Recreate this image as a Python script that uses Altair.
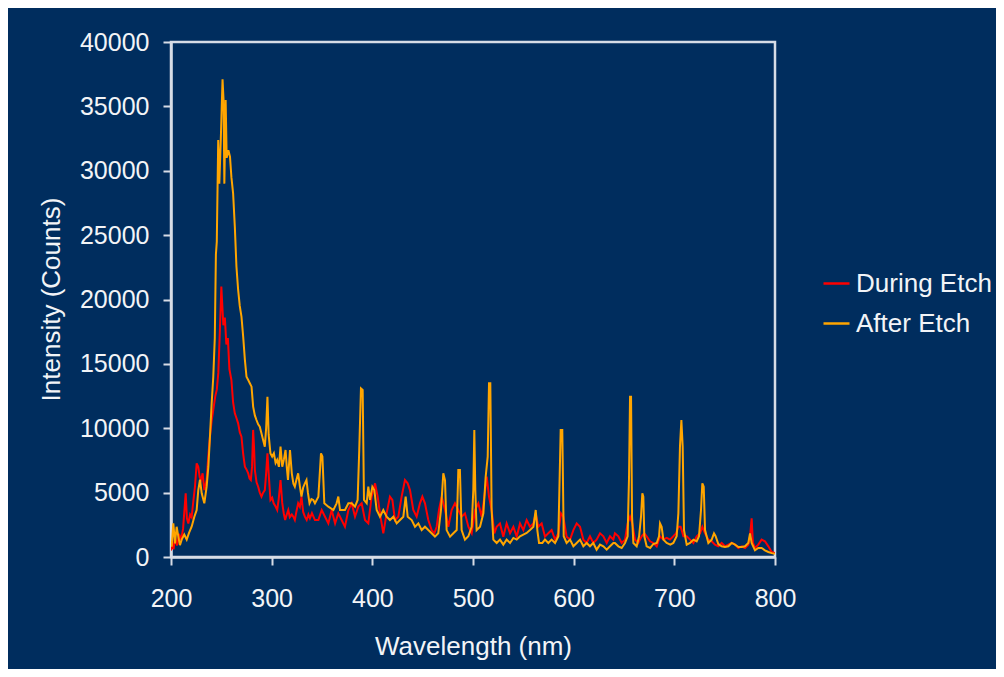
import altair as alt
import pandas as pd

# ---- data ----
series_names = ["During Etch", "After Etch"]
series_colors = ["#FF0000", "#FFA500"]

wl_during = [200, 201, 202.5, 204, 206, 208, 210, 212, 213.5, 214.6, 215.8, 217.2, 219, 220.5, 222, 223.8,
             225.5, 227.1, 228.5, 229.8, 231.4, 233.1, 235.4, 237, 238.7, 240.4, 242, 244, 245.5, 247, 248.5,
             250, 251, 252, 253.5, 255, 256.5, 258, 260, 261.7, 263.4, 265, 266.7, 268.3, 270, 271.7, 273.4,
             275, 276.7, 278, 279.3, 280.5, 281.6, 282.5, 283.3, 285, 286.6, 288.2, 289.9, 291.5, 293.2, 294.5,
             295.8, 297, 298.8, 300.5, 302, 304, 305.5, 307, 308.8, 310.5, 312, 313.4, 315, 316.5, 318, 320,
             321.5, 323, 324.5, 326.3, 328, 329.6, 331.3, 333, 334.8, 336.5, 338, 340, 341.5, 343, 346.4,
             349.7, 353, 356.3, 359.6, 363, 366.2, 369.5, 372.8, 376.2, 379.5, 382.8, 386.1, 389.4, 392.7,
             396, 399.3, 402.7, 405.3, 407.6, 410.9, 414.2, 417.5, 419.9, 422.5, 425.8, 429.1, 432.4, 435.1,
             437.4, 440.7, 444, 447.3, 449.7, 452.3, 455.6, 458.9, 461.6, 463.9, 466.2, 468.9, 472.2, 475.5,
             478.8, 482.1, 485.4, 488.7, 492, 495.4, 498.7, 502, 505.3, 508.6, 511.3, 513.6, 515.9, 518.5,
             521.2, 523.5, 526.8, 530.1, 533.4, 536.8, 540.1, 543.4, 546.7, 550, 553.3, 556.6, 560, 562.3,
             564.9, 568.2, 571.5, 574.8, 578.1, 581.5, 584.8, 587.4, 589.7, 593, 596.4, 599.7, 603, 606.3,
             609.6, 612.9, 616.2, 619.5, 622.8, 626.2, 629.5, 632.8, 636.1, 639.4, 641, 644.4, 647.7, 651,
             653.6, 656, 658.3, 660.9, 664.2, 667.5, 670.2, 672.5, 675.8, 679.1, 682.5, 685.8, 689.1, 692.4,
             695.7, 699, 701.7, 704, 706.3, 709, 712.3, 715.6, 718.9, 722.2, 725.5, 727.8, 730.5, 733.8,
             737.1, 740.4, 743.7, 747, 750.3, 753.7, 757, 760.3, 763.6, 766.9, 770.2, 773.5, 775.2, 776.8,
             778.1, 780.1, 783.4, 786.7, 790, 793.4, 796.7, 800]
int_during = [500, 1200, 600, 1500, 900, 1800, 1300, 2200, 3800, 4950, 3000, 2600, 3300, 3100, 4200, 5460,
              7275, 7000, 6200, 5980, 6500, 5200, 5980, 7800, 9350, 10600, 11420, 12500, 13000, 14300, 17500,
              21000, 19500, 18000, 18600, 16500, 17000, 14600, 13750, 12000, 11160, 10800, 10380, 9700, 9350,
              8000, 7015, 6800, 6500, 6100, 5980, 7000, 9870, 8500, 6756, 5800, 5460, 5000, 4690, 5000, 5200,
              6500, 8050, 6500, 4430, 4600, 4170, 3900, 3650, 4500, 5980, 4200, 3400, 2870, 3300, 3650, 3100,
              3300, 3130, 2870, 3500, 4170, 3900, 4690, 3500, 3130, 2870, 3300, 3000, 3400, 3130, 2870, 2870,
              3650, 3130, 2610, 3650, 2610, 3390, 2870, 2350, 3650, 4170, 3130, 3910, 4170, 2870, 2610, 4690,
              5720, 4690, 3390, 1840, 3390, 4690, 4430, 2870, 3130, 4690, 5980, 5720, 5200, 3650, 3130, 4170,
              4690, 4170, 2870, 2090, 1840, 2350, 3650, 4690, 3650, 2350, 3650, 4170, 3650, 3130, 3390, 2350,
              1840, 3650, 4170, 3130, 4690, 6240, 4690, 3650, 1840, 2350, 2610, 1580, 2610, 1840, 2350, 1580,
              2610, 2090, 2870, 2350, 2610, 3390, 2350, 2610, 1580, 1840, 2090, 1350, 1840, 3390, 3130, 1580,
              1350, 2090, 2610, 2350, 1350, 1090, 1610, 1090, 1350, 1840, 1610, 1090, 1610, 1350, 1840, 1610,
              1090, 1350, 2610, 3130, 2610, 1350, 1090, 1610, 1840, 1610, 1220, 1090, 830, 1610, 1350, 1480,
              1350, 1610, 1840, 2350, 2350, 1610, 1610, 1350, 1090, 1610, 1840, 2350, 1840, 1350, 1220, 960,
              830, 1090, 830, 960, 1090, 960, 700, 830, 700, 960, 1610, 3000, 1090, 700, 960, 1350, 1220, 830,
              390, 300]

wl_after = [200.7, 202.3, 204, 205.6, 207.3, 208.9, 210.6, 213.2, 215.6, 217.9, 220.5, 223.2, 225.5, 227.1,
            228.8, 230.5, 233.1, 235.4, 237.1, 238.7, 240.4, 242, 243.5, 244.6, 245.5, 246.9, 248, 249.5,
            251.2, 252.2, 253, 254.3, 255.3, 257, 258.6, 260, 261.7, 263.4, 265, 266.7, 268.3, 270, 271.7,
            273.4, 275, 276.7, 278.3, 280, 281.6, 283.3, 284.9, 286.6, 288.2, 289.9, 291.5, 293.2, 294.5,
            295.8, 297, 298.8, 300.5, 302.2, 303.9, 305.5, 307.2, 308.8, 310.5, 312.2, 313.8, 315, 316.2,
            318.2, 320, 321.6, 323, 324.6, 326.3, 328, 329.6, 331.3, 333, 334.6, 336, 337.6, 339.5, 341.3,
            343, 346.4, 349, 350.4, 352.3, 356.3, 361.3, 364.5, 366.2, 367.9, 372.8, 376.2, 379.5, 382.8,
            385.4, 387, 388.7, 390.4, 391.7, 394.4, 396, 397.7, 400, 402, 404.3, 407.6, 410.9, 414.2, 417.5,
            420.9, 424.2, 427.5, 430.8, 433.1, 435.1, 439.1, 442.4, 445.7, 449, 452.3, 455.6, 458.9, 462.2,
            465.5, 468.2, 470.5, 472.2, 473.8, 477.2, 480.5, 483.8, 485.4, 487, 488.7, 492, 495.4, 498.7,
            500.3, 501.3, 502.3, 503.6, 507, 510.3, 512.6, 514.6, 515.9, 517.2, 518.5, 520.2, 523.5, 526.8,
            530.1, 533.4, 536.8, 540.1, 543.4, 546.7, 550, 553.3, 556.6, 560, 562.3, 563.9, 565.6, 568.9,
            571.5, 574.8, 578.1, 581.5, 584.8, 587.1, 588.7, 590.1, 593, 596.4, 599.7, 603, 606.3, 609.6,
            612.9, 616.2, 619.5, 622.8, 626.2, 629.5, 632.8, 636.1, 639.4, 641, 644.4, 647.7, 651, 653.6,
            655, 656, 657, 658, 659.3, 662.6, 665, 666.9, 668.2, 669.2, 670.2, 672.5, 676, 679.1, 682.5,
            684.8, 685.8, 687.4, 689.1, 692.4, 696, 699, 702.3, 704, 705.6, 707, 708.3, 709.6, 712.3, 715.6,
            719, 722.2, 724.5, 726.5, 727.8, 729.2, 730.5, 733.8, 737.1, 739.4, 741, 743.7, 747, 750.3,
            753.7, 757, 760.3, 763.6, 766.9, 770.2, 773.5, 775.2, 776.8, 780.1, 783.4, 786.7, 790, 793.4,
            796.7, 800]
int_after = [800, 2610, 1060, 2350, 1580, 920, 1350, 1740, 1350, 1870, 2350, 3130, 3650, 5200, 6000, 4950,
             4170, 5460, 7015, 9350, 11940, 14000, 17000, 23500, 24500, 32390, 29000, 32500, 37100, 35500,
             29000, 35500, 31000, 31600, 31090, 29500, 28250, 25660, 22560, 20740, 19500, 18670, 17120, 15310,
             14000, 13750, 13500, 13230, 11680, 11000, 10640, 10300, 10120, 9600, 9090, 8570, 10000, 12450,
             9500, 8050, 7800, 8050, 7300, 7540, 7000, 8570, 7015, 7600, 8310, 7000, 5980, 8310, 6500, 5700,
             5460, 6000, 6500, 5500, 4690, 5400, 5720, 5980, 5000, 4170, 4500, 4430, 4170, 4690, 8050, 7800,
             4170, 3910, 3650, 4170, 4690, 3650, 3650, 4170, 4170, 3910, 4430, 8310, 13100, 12980, 4430, 4170,
             5460, 4430, 5460, 5200, 3650, 3130, 3650, 3130, 2870, 3130, 2610, 2870, 3130, 4690, 3130, 2870,
             2350, 2610, 2100, 2350, 2100, 1840, 1580, 1840, 3650, 6500, 5950, 2090, 1580, 1840, 2090, 6760,
             6760, 2090, 1350, 1610, 2350, 5200, 9870, 5200, 2090, 2350, 3390, 6240, 7800, 13490, 13490, 3650,
             1350, 1090, 1350, 960, 1350, 1090, 1480, 1350, 1610, 1740, 1870, 2090, 2350, 3650, 2090, 1090,
             1090, 1350, 1090, 1350, 1090, 1610, 9870, 9870, 1610, 1090, 1350, 830, 1090, 1350, 830, 1090, 830,
             1090, 570, 960, 830, 570, 830, 1090, 1090, 830, 700, 1090, 1610, 6240, 12450, 12450, 3130, 1090,
             830, 1610, 3130, 4950, 4690, 1610, 830, 700, 1010, 1090, 1610, 2610, 2350, 1350, 1090, 960, 1090,
             1610, 3390, 8570, 10640, 8570, 2090, 960, 1090, 1350, 1220, 1610, 3650, 5720, 5460, 2090, 1090,
             1350, 1840, 1610, 1010, 830, 780, 830, 1090, 960, 780, 780, 830, 1090, 1840, 1090, 520, 700, 700,
             520, 390, 300, 250]

x_ticks = [200, 300, 400, 500, 600, 700, 800]
y_ticks = [0, 5000, 10000, 15000, 20000, 25000, 30000, 35000, 40000]

# ---- table ----
df = pd.concat([
    pd.DataFrame({"wl": wl_during, "val": int_during, "series": series_names[0], "order": 0}),
    pd.DataFrame({"wl": wl_after, "val": int_after, "series": series_names[1], "order": 1}),
], ignore_index=True)

BG = "#002D5E"
FG = "#F2F4F7"
FRAME = "#D6DCE6"
FONT = "Liberation Sans"

chart = alt.Chart(df).mark_line(strokeWidth=2, clip=True).encode(
    x=alt.X("wl:Q",
            scale=alt.Scale(domain=[200, 800], nice=False, zero=False),
            axis=alt.Axis(values=x_ticks, title="Wavelength (nm)", format="d",
                          grid=False, tickSize=8, labelPadding=33, labelBaseline="middle",
                          labelFlush=False, labelOverlap=False,
                          titleY=89, titleBaseline="middle")),
    y=alt.Y("val:Q",
            scale=alt.Scale(domain=[0, 40000], nice=False),
            axis=alt.Axis(values=y_ticks, title="Intensity (Counts)", format="d",
                          grid=False, tickSize=8, labelPadding=14, labelFlush=False,
                          labelOverlap=False,
                          titleX=-120, titleY=257, titleAngle=-90, titleBaseline="middle",
                          titleAlign="center")),
    color=alt.Color("series:N",
                    scale=alt.Scale(domain=series_names, range=series_colors),
                    legend=alt.Legend(title=None, orient="none", legendX=651, legendY=227,
                                      symbolType="stroke", symbolSize=676, symbolStrokeWidth=2.5,
                                      rowPadding=12, labelOffset=5, padding=0,
                                      labelFontSize=26, labelColor=FG, labelFont=FONT)),
    order=alt.Order("order:Q"),
    detail="series:N",
).properties(
    width=604, height=515,
    padding={"left": 163, "top": 34, "right": 221, "bottom": 112},
    autosize=alt.AutoSizeParams(type="none"),
    background=BG,
).configure_view(
    stroke=FRAME, strokeWidth=2.5, fill=BG,
).configure_axis(
    domainColor=FRAME, domainWidth=2.5, tickColor=FRAME, tickWidth=2,
    labelColor=FG, labelFont=FONT, labelFontSize=25,
    titleColor=FG, titleFont=FONT, titleFontSize=26, titleFontWeight="normal",
)

chart.save("out.html", embed_options={"renderer": "svg", "actions": False})
